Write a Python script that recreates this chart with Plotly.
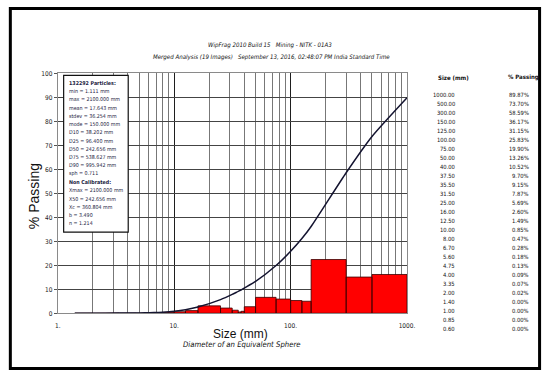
import plotly.graph_objects as go

# Sieve table: size (mm) and cumulative % passing
sieve_mm = [1000.00, 500.00, 300.00, 150.00, 125.00, 100.00, 75.00, 50.00, 40.00,
            37.50, 35.50, 31.50, 25.00, 16.00, 12.50, 10.00, 8.00, 6.70, 5.60,
            4.75, 4.00, 3.35, 2.00, 1.40, 1.00, 0.85, 0.60]
passing_pct = [89.87, 73.70, 58.59, 36.17, 31.15, 25.83, 19.90, 13.26, 10.52,
               9.70, 9.15, 7.87, 5.69, 2.60, 1.49, 0.85, 0.47, 0.28, 0.18,
               0.13, 0.09, 0.07, 0.02, 0.00, 0.00, 0.00, 0.00]

x_tick_vals = [1, 10, 100, 1000]
x_tick_text = ["1.", "10.", "100.", "1000."]
y_tick_vals = [0, 10, 20, 30, 40, 50, 60, 70, 80, 90, 100]

stats_lines = [
    ("132292 Particles:", True),
    ("min = 1.111 mm", False),
    ("max = 2100.000 mm", False),
    ("mean = 17.643 mm", False),
    ("stdev = 36.254 mm", False),
    ("mode = 150.000 mm", False),
    ("D10 = 38.202 mm", False),
    ("D25 = 96.400 mm", False),
    ("D50 = 242.656 mm", False),
    ("D75 = 538.627 mm", False),
    ("D90 = 995.942 mm", False),
    ("sph = 0.711", False),
    ("Non Calibrated:", True),
    ("Xmax = 2100.000 mm", False),
    ("X50 = 242.656 mm", False),
    ("Xc = 360.804 mm", False),
    ("b = 3.490", False),
    ("n = 1.214", False),
]

title_1 = "WipFrag 2010 Build 15   Mining - NITK - 01A3"
title_2 = "Merged Analysis (19 Images)   September 13, 2016, 02:48:07 PM India Standard Time"

W, H = 552, 376
NARROW = ("Liberation Sans Narrow, Arial Narrow, DejaVu Sans Condensed, "
          "Liberation Sans, Arial, sans-serif")
SANS = "Liberation Sans, Arial, sans-serif"


def px(x):
    return x / W


def py(y):
    return 1 - y / H


# ascending order for the curve and the size-class bars
pairs = sorted(zip(sieve_mm, passing_pct))
pairs = [(s, p) for s, p in pairs if s >= 1.4]
curve_x = [s for s, _ in pairs]
curve_y = [p for _, p in pairs]

bar_x, bar_y = [], []
for (lo, plo), (hi, phi) in zip(pairs[:-1], pairs[1:]):
    h = phi - plo
    bar_x += [lo, lo, hi, hi, lo, None]
    bar_y += [0, h, h, 0, 0, None]

fig = go.Figure()
fig.add_trace(go.Scatter(
    x=bar_x, y=bar_y, mode="lines", fill="toself",
    fillcolor="#ff0000", line=dict(color="#3a0000", width=0.8),
    hoverinfo="skip", showlegend=False))
fig.add_trace(go.Scatter(
    x=curve_x, y=curve_y, mode="lines",
    line=dict(color="#141430", width=1.5, shape="spline", smoothing=0.6),
    showlegend=False))

fig.update_layout(
    width=W, height=H, margin=dict(l=0, r=0, t=0, b=0),
    paper_bgcolor="white", plot_bgcolor="white", showlegend=False,
    xaxis=dict(
        type="log", range=[0, 3], domain=[px(56), px(413)],
        tickvals=x_tick_vals, ticktext=x_tick_text,
        tickfont=dict(family=NARROW, size=6.5, color="#222"),
        ticks="", ticklabelstandoff=6,
        showgrid=True, gridcolor="#1e1e1e", gridwidth=1.4,
        minor=dict(showgrid=True, dtick="D1", gridcolor="#777777", gridwidth=1),
        showline=True, linecolor="#8a8a8a", linewidth=1, mirror=True,
        zeroline=False,
    ),
    yaxis=dict(
        range=[0, 100], domain=[py(316), py(71)],
        tickvals=y_tick_vals,
        tickfont=dict(family=NARROW, size=6.5, color="#222"),
        ticks="outside", ticklen=3, tickcolor="#555",
        showgrid=True, gridcolor="#444444", gridwidth=1.3,
        showline=True, linecolor="#8a8a8a", linewidth=1, mirror=True,
        zeroline=False,
    ),
)

shapes = [
    # outer frame
    dict(type="rect", xref="paper", yref="paper",
         x0=px(7.5), x1=px(548.5), y0=py(372.5), y1=py(4.5),
         line=dict(color="black", width=3), fillcolor="rgba(0,0,0,0)"),
    # statistics box
    dict(type="rect", xref="paper", yref="paper", layer="above",
         x0=px(62), x1=px(128), y0=py(233), y1=py(73),
         line=dict(color="#111", width=1.2), fillcolor="white"),
]

ann = []
ann.append(dict(text="<i>" + title_1 + "</i>", x=px(273), y=py(42), xref="paper",
                yref="paper", showarrow=False,
                font=dict(family=NARROW, size=6.1, color="#111"),
                xanchor="center", yanchor="middle"))
ann.append(dict(text="<i>" + title_2 + "</i>", x=px(274), y=py(54), xref="paper",
                yref="paper", showarrow=False,
                font=dict(family=NARROW, size=6.1, color="#111"),
                xanchor="center", yanchor="middle"))

ann.append(dict(text="Size (mm)", x=px(243), y=py(337), xref="paper", yref="paper",
                showarrow=False, font=dict(family=SANS, size=12, color="#111"),
                xanchor="center", yanchor="middle"))
ann.append(dict(text="<i>Diameter of an Equivalent Sphere</i>", x=px(244), y=py(348),
                xref="paper", yref="paper", showarrow=False,
                font=dict(family=NARROW, size=7.7, color="#111"),
                xanchor="center", yanchor="middle"))
ann.append(dict(text="% Passing", x=px(32), y=py(196), xref="paper", yref="paper",
                showarrow=False, textangle=-90,
                font=dict(family=SANS, size=14, color="#111"),
                xanchor="center", yanchor="middle"))

# statistics text
for i, (line, bold) in enumerate(stats_lines):
    t = "<b>%s</b>" % line if bold else line
    ann.append(dict(text=t, x=px(65), y=py(80.5 + i * 8.45), xref="paper",
                    yref="paper", showarrow=False,
                    font=dict(family=NARROW, size=5.3, color="#1a1a40"),
                    xanchor="left", yanchor="middle"))

# sieve table on the right
ann.append(dict(text="<b>Size (mm)</b>", x=px(461), y=py(75), xref="paper",
                yref="paper", showarrow=False,
                font=dict(family=NARROW, size=6, color="#111"),
                xanchor="center", yanchor="middle"))
ann.append(dict(text="<b>% Passing</b>", x=px(532), y=py(75), xref="paper",
                yref="paper", showarrow=False,
                font=dict(family=NARROW, size=6, color="#111"),
                xanchor="center", yanchor="middle"))
for i, (s, p) in enumerate(zip(sieve_mm, passing_pct)):
    yy = py(93 + i * 9.2)
    ann.append(dict(text="%.2f" % s, x=px(464), y=yy, xref="paper", yref="paper",
                    showarrow=False, font=dict(family=NARROW, size=5.8, color="#111"),
                    xanchor="right", yanchor="middle"))
    ann.append(dict(text="%.2f%%" % p, x=px(540), y=yy, xref="paper", yref="paper",
                    showarrow=False, font=dict(family=NARROW, size=5.8, color="#111"),
                    xanchor="right", yanchor="middle"))

fig.update_layout(shapes=shapes, annotations=ann)
fig.write_html("out.html")
